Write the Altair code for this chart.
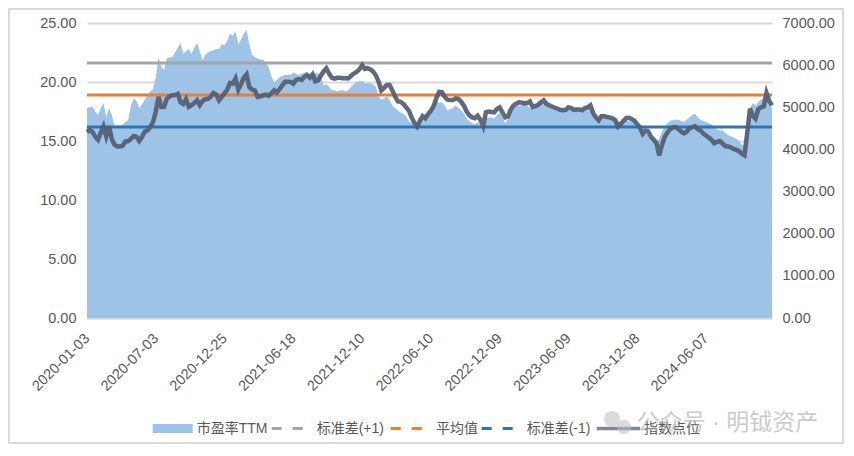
import altair as alt
import pandas as pd

tick_labels = ["2020-01-03", "2020-07-03", "2020-12-25", "2021-06-18", "2021-12-10",
               "2022-06-10", "2022-12-09", "2023-06-09", "2023-12-08", "2024-06-07"]

pe_ttm = [
    17.8, 17.85, 17.9, 17.5, 17.2, 17.8, 18.2, 17.0, 17.8, 17.2,
    16.3, 16.3, 16.3, 16.4, 16.6, 16.8, 18.0, 18.6, 18.4, 17.8,
    18.1, 18.5, 18.9, 19.2, 19.4, 20.4, 22.1, 21.3, 21.0, 22.0,
    22.1, 22.1, 22.5, 22.9, 23.3, 22.4, 22.6, 22.8, 22.4, 22.9,
    23.3, 22.6, 21.85, 22.3, 22.5, 22.6, 22.7, 22.8, 22.8, 23.2,
    23.1, 23.5, 24.1, 23.9, 24.3, 23.2, 23.6, 24.1, 24.4, 23.2,
    22.3, 22.1, 22.0, 21.9, 21.9, 21.6, 21.3, 20.5, 20.0, 20.2,
    20.4, 20.5, 20.6, 20.6, 20.6, 20.8, 20.7, 20.6, 20.7, 20.8,
    20.85, 20.6, 20.5, 20.8, 20.7, 20.6, 19.7, 19.8, 19.6, 19.3,
    19.3, 19.2, 19.3, 19.3, 19.2, 19.3, 19.6, 19.8, 20.0, 20.05,
    20.1, 19.9, 19.9, 19.9, 19.8, 19.6, 18.8, 18.5, 18.6, 18.8,
    18.5, 18.0, 17.8, 17.6, 17.4, 17.3, 17.1, 16.7, 16.5, 16.4,
    16.3, 16.8, 17.0, 17.2, 17.4, 17.6, 18.3, 18.5, 18.2, 18.3,
    18.0, 17.6, 17.7, 17.8, 18.0, 17.8, 17.6, 17.3, 16.9, 16.7,
    16.5, 16.4, 16.6, 16.3, 15.75, 16.9, 17.0, 17.0, 16.9, 17.2,
    17.4, 17.0, 16.5, 16.8, 17.4, 17.8, 18.0, 18.0, 18.0, 18.2,
    18.0, 17.8, 17.8, 17.9, 18.1, 18.2, 18.3, 18.1, 18.0, 17.8,
    17.7, 17.6, 17.6, 17.6, 17.6, 17.7, 17.7, 17.6, 17.7, 17.6,
    17.6, 17.8, 18.0, 17.6, 17.3, 17.0, 16.9, 17.1, 17.0, 17.0,
    16.9, 16.8, 16.7, 16.7, 16.6, 16.6, 16.7, 16.7, 16.6, 16.5,
    16.3, 16.1, 15.9, 15.7, 15.5, 15.3, 15.1, 14.9, 15.2, 15.8,
    16.2, 16.5, 16.7, 16.8, 16.8, 16.8, 16.7, 16.6, 16.8, 17.0,
    17.2, 17.3, 17.0, 16.8, 16.7, 16.6, 16.5, 16.4, 16.2, 16.0,
    15.9, 15.9, 15.7, 15.5, 15.4, 15.3, 15.2, 15.0, 14.7, 14.6,
    16.5, 17.8, 18.2, 18.0, 18.3, 18.5, 18.6, 19.0, 18.3, 17.8,
]

index_pts = [
    4412, 4460, 4420, 4300, 4230, 4400, 4548, 4310, 4548, 4250,
    4110, 4071, 4071, 4090, 4190, 4200, 4250, 4320, 4300, 4200,
    4300, 4420, 4450, 4530, 4650, 4900, 5245, 5007, 5010, 5200,
    5260, 5286, 5290, 5320, 5120, 5080, 5190, 5010, 5050, 5100,
    5166, 5050, 5150, 5190, 5200, 5250, 5340, 5300, 5166, 5250,
    5330, 5420, 5579, 5560, 5683, 5420, 5550, 5700, 5777, 5480,
    5420, 5400, 5245, 5260, 5280, 5300, 5270, 5330, 5404, 5350,
    5430, 5520, 5603, 5603, 5600, 5560, 5650, 5670, 5650, 5720,
    5762, 5700, 5780, 5620, 5640, 5750, 5850, 5921, 5800, 5700,
    5680, 5700, 5700, 5690, 5690, 5683, 5750, 5800, 5840, 5900,
    6000, 5910, 5930, 5900, 5850, 5760, 5603, 5400, 5460, 5530,
    5530, 5400, 5250, 5140, 5130, 5080, 5000, 4920, 4760, 4630,
    4540, 4680, 4790, 4740, 4840, 4920, 5030, 5220, 5365, 5360,
    5250, 5180, 5170, 5170, 5210, 5200, 5130, 5040, 4900, 4810,
    4760, 4740, 4800, 4700, 4548, 4880, 4900, 4890, 4880, 4960,
    5000, 4880, 4760, 4780, 4940, 5040, 5087, 5120, 5110, 5090,
    5100, 5140, 5010, 5030, 5060, 5120, 5166, 5080, 5050, 5020,
    4990, 4970, 4940, 4930, 4940, 5000, 4980, 4940, 4950, 4950,
    4930, 4980, 5000, 5046, 4860, 4760, 4690, 4790, 4790, 4770,
    4760, 4740, 4700, 4540, 4600, 4680, 4740, 4750, 4720, 4680,
    4600, 4520, 4373, 4450, 4430, 4300, 4230, 4150, 3857, 4100,
    4300, 4400, 4480, 4520, 4531, 4480, 4420, 4380, 4420, 4500,
    4530, 4548, 4480, 4450, 4380, 4330, 4280, 4230, 4150, 4180,
    4200, 4140, 4080, 4070, 4050, 4010, 3990, 3960, 3900, 3860,
    4400, 4968, 4800, 4730, 4950, 5000, 5020, 5341, 5150, 5046,
]

level_names = ["标准差(+1)", "平均值", "标准差(-1)"]
level_values = [21.62, 18.90, 16.18]
level_colors = ["#A5A5A5", "#ED7D31", "#2E75B6"]

legend_labels = ["市盈率TTM", "标准差(+1)", "平均值", "标准差(-1)", "指数点位"]
watermark = "公众号 · 明钺资产"

W, H = 685, 295
FONT = "Liberation Sans, Noto Sans CJK SC"
LABEL_COLOR = "#595959"

n = len(pe_ttm)
df = pd.DataFrame({"i": list(range(n)), "pe": pe_ttm, "idx": index_pts})
levels = pd.DataFrame({"name": level_names, "pe": level_values})
one = pd.DataFrame({"k": [0]})

tick_vals = [k * 25 for k in range(len(tick_labels))]
label_expr = "[" + ",".join("'%s'" % t for t in tick_labels) + "][round(datum.value / 25)]"

x_enc = alt.X(
    "i:Q",
    scale=alt.Scale(domain=[0, n - 1], nice=False, zero=False),
    axis=alt.Axis(
        values=tick_vals, labelExpr=label_expr, labelAngle=-45, labelAlign="right",
        labelBaseline="middle", labelPadding=18, labelOverlap=False, labelFlush=False,
        ticks=False, tickSize=0, grid=False, domainColor="#D9D9D9", domainWidth=2,
        labelColor=LABEL_COLOR, labelFontSize=14.5, labelFont=FONT, title=None,
    ),
)

y_left = alt.Y(
    "pe:Q",
    scale=alt.Scale(domain=[0, 25], nice=False),
    axis=alt.Axis(
        values=[0, 5, 10, 15, 20, 25], format=".2f", grid=True, gridColor="#D9D9D9",
        gridWidth=2, domain=False, ticks=False, tickSize=0, labelPadding=11,
        labelColor=LABEL_COLOR, labelFontSize=14.5, labelFont=FONT, title=None,
    ),
)

area = alt.Chart(df).mark_area(color="#9DC3E6", opacity=1).encode(x=x_enc, y=y_left)

rules = alt.Chart(levels).mark_rule(strokeWidth=3).encode(
    y=y_left,
    color=alt.Color("name:N", scale=alt.Scale(domain=level_names, range=level_colors), legend=None),
)

left = alt.layer(area, rules)

line = alt.Chart(df).mark_line(color="#525D72", strokeWidth=4.5, opacity=0.92).encode(
    x=x_enc,
    y=alt.Y(
        "idx:Q",
        scale=alt.Scale(domain=[0, 7000], nice=False),
        axis=alt.Axis(
            orient="right", values=list(range(0, 7001, 1000)), format=".2f", grid=False,
            domain=False, ticks=False, tickSize=0, labelPadding=10,
            labelColor=LABEL_COLOR, labelFontSize=14.5, labelFont=FONT, title=None,
        ),
    ),
)

# ---- manual legend (bottom) ----
LY = 405.5
leg = []
leg.append(alt.Chart(one).mark_rect(color="#9DC3E6").encode(
    x=alt.value(65.7), x2=alt.value(105.7), y=alt.value(401), y2=alt.value(410)))
dash_x = [184.7, 303.7, 394.7]
for xs, col in zip(dash_x, level_colors):
    leg.append(alt.Chart(one).mark_rule(color=col, strokeWidth=3, strokeDash=[10, 11]).encode(
        x=alt.value(xs), x2=alt.value(xs + 40), y=alt.value(LY)))
leg.append(alt.Chart(one).mark_rule(color="#7D889B", strokeWidth=3.5).encode(
    x=alt.value(509.7), x2=alt.value(553), y=alt.value(LY)))
text_x = [109.7, 229.7, 349, 439.7, 557]
for tx, lab in zip(text_x, legend_labels):
    leg.append(alt.Chart(one).mark_text(
        text=lab, align="left", baseline="middle", fontSize=14, font=FONT, color=LABEL_COLOR
    ).encode(x=alt.value(tx), y=alt.value(LY)))

# watermark
leg.append(alt.Chart(one).mark_circle(color="#BDBDBD", opacity=0.55, size=260).encode(
    x=alt.value(525), y=alt.value(396)))
leg.append(alt.Chart(one).mark_circle(color="#BDBDBD", opacity=0.55, size=210).encode(
    x=alt.value(537), y=alt.value(404)))
leg.append(alt.Chart(one).mark_text(
    text=watermark, align="left", baseline="middle", fontSize=23, font=FONT,
    color="#AAAAAA", opacity=0.6
).encode(x=alt.value(549.7), y=alt.value(400)))

# outer frame
frame = alt.Chart(one).mark_rect(fillOpacity=0, stroke="#D9D9D9", strokeWidth=2).encode(
    x=alt.value(-78), x2=alt.value(W + 71), y=alt.value(-14), y2=alt.value(H + 125))

main = alt.layer(left, line).resolve_scale(y="independent")

chart = alt.layer(main, *leg, frame).properties(
    width=W, height=H,
    autosize=alt.AutoSizeParams(type="none"),
    padding={"left": 79, "top": 15, "right": 72, "bottom": 126},
    background="white",
).configure_view(stroke=None)

chart.save("out.html", embed_options={"renderer": "svg", "actions": False})
